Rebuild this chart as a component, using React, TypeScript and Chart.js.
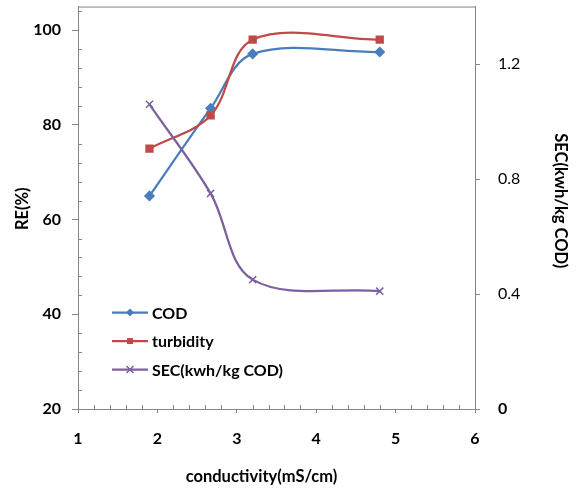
import React, { useEffect, useRef } from 'react';
import { Chart, registerables } from 'chart.js';

Chart.register(...registerables);

// ---- data ----
const conductivity = [1.9, 2.67, 3.2, 4.8];
const codRemoval = [65, 83.5, 95, 95.4];
const turbidityRemoval = [75, 82, 98, 98];
const secValues = [1.06, 0.75, 0.45, 0.41];
const seriesNames = ['COD', 'turbidity', 'SEC(kwh/kg COD)'];
const xTitle = 'conductivity(mS/cm)';
const yLeftTitle = 'RE(%)';
const yRightTitle = 'SEC(kwh/kg COD)';
const xTicks = [1, 2, 3, 4, 5, 6];
const leftTicks = [20, 40, 60, 80, 100];
const rightTicks = [0, 0.4, 0.8, 1.2];

const FONT = 'Lato, "Open Sans", sans-serif';
const AXIS = '#868686';
const COLORS = ['#4A7EBB', '#BE4B48', '#7D60A0'];
const STYLES = ['rectRot', 'rect', 'crossRot'];

function drawMarker(ctx: CanvasRenderingContext2D, style: string, x: number, y: number, color: string) {
  ctx.save();
  ctx.fillStyle = color;
  ctx.strokeStyle = color;
  ctx.lineWidth = 1.5;
  ctx.beginPath();
  if (style === 'rectRot') {
    const r = 4;
    ctx.moveTo(x, y - r);
    ctx.lineTo(x + r, y);
    ctx.lineTo(x, y + r);
    ctx.lineTo(x - r, y);
    ctx.closePath();
    ctx.fill();
  } else if (style === 'rect') {
    const s = 3;
    ctx.rect(x - s, y - s, 2 * s, 2 * s);
    ctx.fill();
  } else {
    const s = 3.5;
    ctx.moveTo(x - s, y - s);
    ctx.lineTo(x + s, y + s);
    ctx.moveTo(x + s, y - s);
    ctx.lineTo(x - s, y + s);
    ctx.stroke();
  }
  ctx.restore();
}

const decorPlugin = {
  id: 'decor',
  beforeDatasetsDraw(chart: any) {
    const { ctx, chartArea: ca, scales } = chart;
    ctx.save();
    ctx.strokeStyle = AXIS;
    ctx.lineWidth = 1;
    // frame
    ctx.strokeRect(ca.left + 0.5, ca.top + 0.5, ca.right - ca.left, ca.bottom - ca.top);
    // minor ticks on left axis (inside)
    ctx.beginPath();
    for (let v = 24; v < 105; v += 4) {
      if (v % 20 === 0) continue;
      const y = Math.round(scales.y.getPixelForValue(v)) + 0.5;
      ctx.moveTo(ca.left, y);
      ctx.lineTo(ca.left + 4, y);
    }
    // minor ticks on x axis (inside)
    for (let i = 6; i < 30; i++) {
      if (i % 5 === 0) continue;
      const v = i / 5;
      const x = Math.round(scales.x.getPixelForValue(v)) + 0.5;
      ctx.moveTo(x, ca.bottom);
      ctx.lineTo(x, ca.bottom - 4);
    }
    ctx.stroke();
    ctx.restore();
  },
  afterDraw(chart: any) {
    const { ctx, chartArea: ca } = chart;
    ctx.save();
    // legend
    ctx.font = `bold 16px ${FONT}`;
    ctx.textBaseline = 'middle';
    ctx.textAlign = 'left';
    chart.data.datasets.forEach((ds: any, i: number) => {
      const y = ca.top + 306 + i * 28.5;
      const x0 = ca.left + 34;
      const x1 = ca.left + 70;
      ctx.strokeStyle = COLORS[i];
      ctx.lineWidth = 2.25;
      ctx.beginPath();
      ctx.moveTo(x0, y);
      ctx.lineTo(x1, y);
      ctx.stroke();
      drawMarker(ctx, STYLES[i], (x0 + x1) / 2, y, COLORS[i]);
      ctx.fillStyle = '#000';
      ctx.fillText(seriesNames[i], x1 + 4, y + 1);
    });
    // axis titles
    ctx.fillStyle = '#000';
    ctx.font = `bold 16.5px ${FONT}`;
    ctx.textAlign = 'center';
    ctx.textBaseline = 'middle';
    ctx.save();
    ctx.translate(23, (ca.top + ca.bottom) / 2 + 1);
    ctx.rotate(-Math.PI / 2);
    ctx.fillText(yLeftTitle, 0, 0);
    ctx.restore();
    ctx.save();
    ctx.translate(560, (ca.top + ca.bottom) / 2 - 7);
    ctx.rotate(Math.PI / 2);
    ctx.fillText(yRightTitle, 0, 0);
    ctx.restore();
    ctx.textBaseline = 'alphabetic';
    ctx.fillText(xTitle, (ca.left + ca.right) / 2 - 15, 482);
    ctx.restore();
  },
};

export default function App() {
  const ref = useRef<HTMLCanvasElement>(null);
  useEffect(() => {
    document.body.style.margin = '0';
    const toPts = (ys: number[]) => conductivity.map((x, i) => ({ x, y: ys[i] }));
    const chart = new Chart(ref.current as HTMLCanvasElement, {
      type: 'line',
      data: {
        datasets: [
          {
            label: seriesNames[0],
            data: toPts(codRemoval),
            yAxisID: 'y',
            borderColor: COLORS[0],
            backgroundColor: COLORS[0],
            pointStyle: 'rectRot',
            pointRadius: 4,
            borderWidth: 2.25,
            tension: 0.35,
            order: 2,
          },
          {
            label: seriesNames[1],
            data: toPts(turbidityRemoval),
            yAxisID: 'y',
            borderColor: COLORS[1],
            backgroundColor: COLORS[1],
            pointStyle: 'rect',
            pointRadius: 4.3,
            borderWidth: 2.25,
            tension: 0.35,
            order: 1,
          },
          {
            label: seriesNames[2],
            data: toPts(secValues),
            yAxisID: 'y1',
            borderColor: COLORS[2],
            backgroundColor: COLORS[2],
            pointStyle: 'crossRot',
            pointRadius: 5,
            pointBorderWidth: 1.5,
            borderWidth: 2.25,
            tension: 0.35,
            order: 0,
          },
        ],
      },
      options: {
        responsive: false,
        animation: false,
        layout: { padding: { top: 6, left: 0, right: 0, bottom: 0 } },
        plugins: { legend: { display: false }, tooltip: { enabled: false } },
        scales: {
          x: {
            type: 'linear',
            min: 1,
            max: 6,
            afterBuildTicks: (s: any) => { s.ticks = xTicks.map((value) => ({ value })); },
            afterFit: (s: any) => { s.height = 80; s.paddingLeft = 0; s.paddingRight = 0; },
            border: { color: AXIS, width: 1 },
            grid: { drawOnChartArea: false, color: AXIS, tickLength: 4 },
            ticks: { color: '#000', padding: 16, font: { family: FONT, size: 16, weight: 'bold' } },
          },
          y: {
            type: 'linear',
            position: 'left',
            min: 20,
            max: 105,
            afterBuildTicks: (s: any) => { s.ticks = leftTicks.map((value) => ({ value })); },
            afterFit: (s: any) => { s.width = 78; s.paddingTop = 0; s.paddingBottom = 0; },
            border: { color: AXIS, width: 1 },
            grid: { drawOnChartArea: false, color: AXIS, tickLength: 6 },
            ticks: { color: '#000', padding: 11, font: { family: FONT, size: 16, weight: 'bold' } },
          },
          y1: {
            type: 'linear',
            position: 'right',
            min: 0,
            max: 1.4,
            afterBuildTicks: (s: any) => { s.ticks = rightTicks.map((value) => ({ value })); },
            afterFit: (s: any) => { s.width = 102; s.paddingTop = 0; s.paddingBottom = 0; },
            border: { color: AXIS, width: 1 },
            grid: { drawOnChartArea: false, color: AXIS, tickLength: 5 },
            ticks: {
              color: '#000',
              padding: 18,
              callback: (v: any) => (v === 0 ? '0' : Number(v).toFixed(1)),
              font: (c: any) => ({
                family: FONT,
                size: 16,
                weight: c.tick && c.tick.value === 0 ? 'bold' : 'normal',
              }),
            },
          },
        },
      },
      plugins: [decorPlugin],
    } as any);
    return () => chart.destroy();
  }, []);
  return (
    <div style={{ width: 577, height: 489, position: 'relative', background: '#fff' }}>
      <canvas ref={ref} width={577} height={489} style={{ display: 'block' }} />
    </div>
  );
}
